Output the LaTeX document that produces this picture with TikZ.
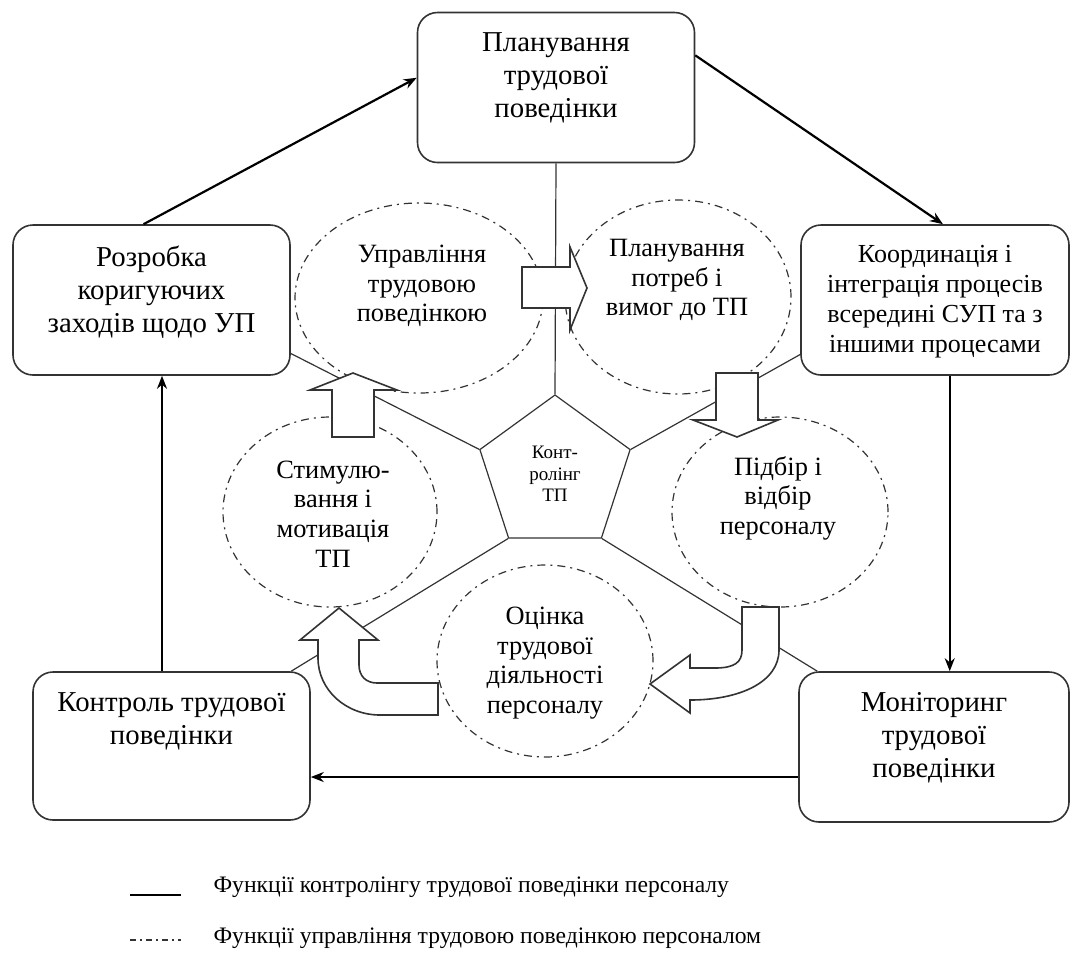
\documentclass[tikz,border=0pt]{standalone}
\usepackage{fontspec}
\setmainfont{Liberation Serif}
\usetikzlibrary{positioning, arrows.meta, shapes.geometric}

\begin{document}
\begin{tikzpicture}[x=0.5pt,y=-0.5pt,>={Stealth[length=6.5pt,width=5pt]},semithick]
\tikzstyle{block}=[draw=black!80,line width=0.8pt,rounded corners=10pt,fill=white,minimum width=138.5pt,minimum height=75pt,inner sep=0pt]
\tikzstyle{btext}=[align=center,inner sep=0pt,font=\fontsize{14.4}{16.4}\selectfont]
\tikzstyle{func}=[draw=black!80,ellipse,line width=0.6pt,dash pattern=on 4pt off 2.5pt on 1pt off 2.5pt,inner sep=0pt]
\tikzstyle{ftext}=[align=center,inner sep=0pt,font=\fontsize{13.2}{14.8}\selectfont]
\tikzstyle{link}=[draw=black!80,line width=0.6pt]
\tikzstyle{flow}=[->,draw=black,line width=1.1pt]
\tikzstyle{barrow}=[draw=black!80,fill=white,line width=0.8pt]
\tikzstyle{legtext}=[anchor=west,inner sep=0pt,font=\fontsize{11.8}{13}\selectfont]

\useasboundingbox (0,0) rectangle (1071,960);

% blocks of the control cycle
\node[block] (plan) at (556,87.5) {};
\node[block] (rozr) at (151.5,300) {};
\node[block,minimum width=134pt] (koord) at (935,300) {};
\node[block,minimum height=74pt] (kontr) at (171.5,746) {};
\node[block,minimum width=135pt] (monit) at (934,747) {};

\node[btext] (plan-t) at ([yshift=4.75pt]plan.center) {Планування\\трудової\\поведінки};
\node[btext] (rozr-t) at ([yshift=4pt]rozr.center) {Розробка\\коригуючих\\заходів щодо УП};
\node[btext,font=\fontsize{13}{15}\selectfont] (koord-t) at ([yshift=-1pt]koord.center) {Координація і\\інтеграція процесів\\всередині СУП та з\\іншими процесами};
\node[btext] (kontr-t) at ([yshift=12.5pt]kontr.center) {Контроль трудової\\поведінки};
\node[btext] (monit-t) at ([yshift=4.5pt]monit.center) {Моніторинг\\трудової\\поведінки};

% centre
\node[draw=black!80,line width=0.6pt,fill=white,regular polygon,regular polygon sides=5,minimum size=79pt,inner sep=0pt,align=center,font=\fontsize{9.5}{10.8}\selectfont] (ctrl) at (555,474) {Конт-\\ролінг\\ТП};

\draw[link] (ctrl.corner 1) -- (plan.south);
\draw[link] (ctrl.corner 2) -- (rozr.-21);
\draw[link] (ctrl.corner 5) -- (koord.202);
\draw[link] (ctrl.corner 3) -- (kontr.32);
\draw[link] (ctrl.corner 4) -- (monit.147);

% management functions
\node[func,minimum width=124pt,minimum height=95pt] (upr) at (419,298) {};
\node[func,minimum width=113pt,minimum height=97pt] (potr) at (678,297) {};
\node[func,minimum width=107pt,minimum height=95pt] (stim) at (330,512) {};
\node[func,minimum width=108pt,minimum height=95pt] (pidb) at (780,512) {};
\node[func,minimum width=108pt,minimum height=96pt] (otsin) at (545,661) {};

\node[ftext] (upr-t) at (422,286) {Управління\\трудовою\\поведінкою};
\node[ftext] (potr-t) at (677,280) {Планування\\потреб і\\вимог до ТП};
\node[ftext] (stim-t) at (333,514) {Стимулю-\\вання і\\мотивація\\ТП};
\node[ftext] (pidb-t) at (778,498) {Підбір і\\відбір\\персоналу};
\node[ftext] (otsin-t) at (545,663) {Оцінка\\трудової\\діяльності\\персоналу};

% block arrows between the functions
\draw[barrow] (522,267) -- (570,267) -- (570,247) -- (587,288) -- (570,330) -- (570,308) -- (522,308) -- cycle;
\draw[barrow] (716,373) -- (758,373) -- (758,420) -- (778,420) -- (737,437) -- (693,420) -- (716,420) -- cycle;
\draw[barrow] (742,607) -- (779,607) -- (779,650) .. controls (779,682) and (740,700) .. (690,700) -- (690,713) -- (650,684) -- (690,655) -- (690,668) -- (715,668) .. controls (735,668) and (742,662) .. (742,650) -- cycle;
\draw[barrow] (438,715) -- (380,715) .. controls (346,715) and (318,690) .. (318,658) -- (318,640) -- (300,640) -- (339,608) -- (378,640) -- (359,640) -- (359,665) .. controls (359,676) and (366,683) .. (377,683) -- (438,683) -- cycle;
\draw[barrow] (332,437) -- (332,390) -- (310,390) -- (353,373) -- (397,390) -- (374,390) -- (374,437) -- cycle;

% cycle of controlling
\draw[flow] (rozr.96) -- (plan.176);
\draw[flow] (plan.13) -- (koord.84);
\draw[flow] (koord.-79) -- (koord.-79 |- monit.north);
\draw[flow] ([yshift=-15pt]monit.west) -- ([yshift=-15pt]monit.west -| kontr.east);
\draw[flow] ([xshift=-4.75pt]kontr.north) -- ([xshift=-4.75pt]kontr.north |- rozr.south);

% legend
\coordinate (l1a) at (130,895);
\coordinate (l1b) at (181,895);
\coordinate (l2a) at (130,940);
\coordinate (l2b) at (181,940);
\draw[draw=black,line width=0.8pt] (l1a) -- (l1b);
\draw[link,dash pattern=on 3pt off 2pt on 1pt off 2pt] (l2a) -- (l2b);
\node[legtext] (leg1) at (213,887) {Функції контролінгу трудової поведінки персоналу};
\node[legtext] (leg2) at (213,938) {Функції управління трудовою поведінкою персоналом};
\end{tikzpicture}
\end{document}
